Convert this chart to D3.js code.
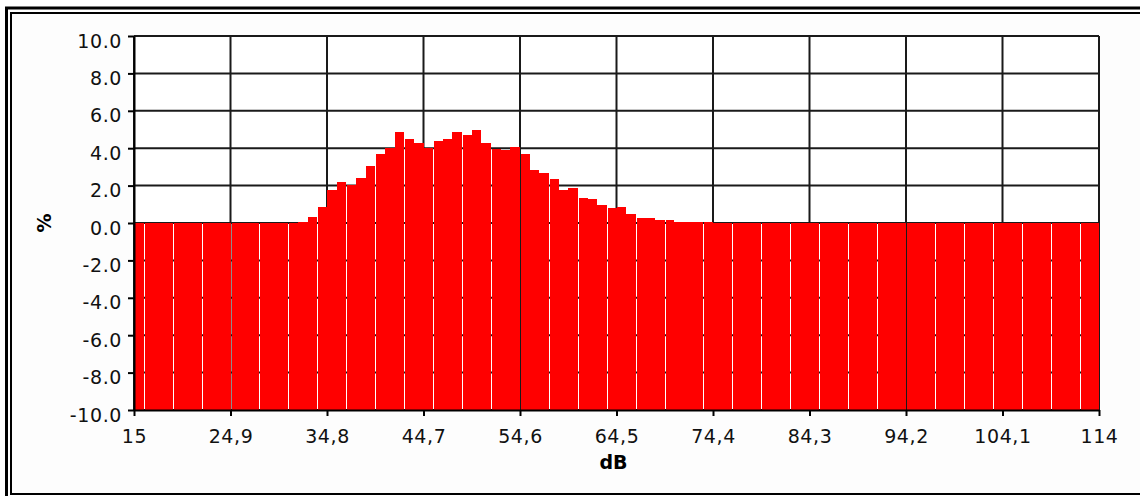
<!DOCTYPE html>
<html><head><meta charset="utf-8">
<script src="https://cdn.jsdelivr.net/npm/d3@7"></script>
<style>
body{margin:0;background:#fff}
svg{display:block}
text{font-family:"DejaVu Sans",Verdana,sans-serif}
</style>
</head><body>
<svg id="c" width="1140" height="496"></svg>
<script>
// ---- data ----
const binStart = 15;
const binWidth = 0.99;
const values = [
  0,0,0,0,0,0,0,0,0,0,
  0,0,0,0,0,0,0,0.05,0.34,0.87,
  1.77,2.18,2.02,2.38,3.07,3.69,4.03,4.87,4.48,4.27,
  4.02,4.37,4.48,4.88,4.69,4.97,4.27,3.98,3.92,4.05,
  3.69,2.86,2.68,2.33,1.76,1.85,1.36,1.27,0.97,0.78,
  0.86,0.46,0.25,0.25,0.15,0.15,0.07,0.07,0.07,0.05,
  0,0,0,0,0,0,0,0,0,0,
  0,0,0,0,0,0,0,0,0,0,
  0,0,0,0,0,0,0,0,0,0,
  0,0,0,0,0,0,0,0,0,0
];
const xTicks = [15,24.9,34.8,44.7,54.6,64.5,74.4,84.3,94.2,104.1,114];
const xTickLabels = ["15","24,9","34,8","44,7","54,6","64,5","74,4","84,3","94,2","104,1","114"];
const yTicks = [-10,-8,-6,-4,-2,0,2,4,6,8,10];
const yTickLabels = ["-10.0","-8.0","-6.0","-4.0","-2.0","0.0","2.0","4.0","6.0","8.0","10.0"];
const xTitle = "dB";
const yTitle = "%";

// ---- layout ----
const svg = d3.select('#c');
const L = 134, R = 1099, T = 36, B = 410;
const x = d3.scaleLinear().domain([xTicks[0], xTicks[xTicks.length-1]]).range([L, R]);
const y = d3.scaleLinear().domain([-10, 10]).range([B, T]);

// frames
svg.append('rect').attr('x',6.5).attr('y',8).attr('width',1300).attr('height',700)
  .attr('fill','none').attr('stroke','#000').attr('stroke-width',3);
svg.append('rect').attr('x',11).attr('y',13).attr('width',1300).attr('height',481)
  .attr('fill','#fdfdfd').attr('stroke','#000').attr('stroke-width',2);
svg.append('rect').attr('x',L).attr('y',T).attr('width',R-L).attr('height',B-T).attr('fill','#fff');

// grid
const grid = svg.append('g');
grid.selectAll('line.h').data(yTicks).join('line').attr('class','h')
  .attr('x1',L).attr('x2',R).attr('y1',d=>y(d)).attr('y2',d=>y(d))
  .attr('stroke','#1a1a1a').attr('stroke-width',2);
grid.selectAll('line.v').data(xTicks).join('line').attr('class','v')
  .attr('x1',d=>x(d)).attr('x2',d=>x(d)).attr('y1',T).attr('y2',B)
  .attr('stroke','#1a1a1a').attr('stroke-width',2);

// bars (thin seam left of some bars, emulating the pixel-rounding gaps of the original)
function seam(k){ const f = ((k*0.33 - 0.15) % 1 + 1) % 1; return k > 0 && f < 0.33; }
svg.append('g').selectAll('rect').data(values).join('rect')
  .attr('x',(d,i)=>Math.round(x(binStart+i*binWidth)) + (seam(i)?1:0))
  .attr('width',(d,i)=>{
     const l = Math.round(x(binStart+i*binWidth)) + (seam(i)?1:0);
     const r = Math.round(x(binStart+(i+1)*binWidth));
     return r - l;
  })
  .attr('y',d=>y(d)).attr('height',d=>B-y(d))
  .attr('fill','#ff0000').attr('shape-rendering','crispEdges');

// axes
const yAxis = d3.axisLeft(y).tickValues(yTicks).tickFormat((d,i)=>yTickLabels[i]).tickSize(6).tickSizeOuter(0);
const gy = svg.append('g').attr('transform',`translate(${L},0)`).call(yAxis);
gy.select('.domain').attr('stroke','#000').attr('stroke-width',2);
gy.selectAll('.tick line').attr('stroke','#000').attr('stroke-width',2);
gy.selectAll('.tick text').attr('x',-12).attr('dy','11px')
  .attr('font-size',19).attr('fill','#111').attr('font-family','"DejaVu Sans",Verdana,sans-serif')
  .style('letter-spacing','0.6px');

const xAxis = d3.axisBottom(x).tickValues(xTicks).tickFormat((d,i)=>xTickLabels[i]).tickSize(6).tickSizeOuter(0);
const gx = svg.append('g').attr('transform',`translate(0,${B})`).call(xAxis);
gx.select('.domain').attr('stroke','#000').attr('stroke-width',2);
gx.selectAll('.tick line').attr('stroke','#000').attr('stroke-width',2);
gx.selectAll('.tick text').attr('y',33).attr('dy',0)
  .attr('font-size',19).attr('fill','#111').attr('font-family','"DejaVu Sans",Verdana,sans-serif')
  .style('letter-spacing','0.6px');

// titles
svg.append('text').attr('x',(L+R)/2 - 3).attr('y',469).attr('text-anchor','middle')
  .attr('font-size',19).attr('font-weight','bold').attr('fill','#000').text(xTitle);
svg.append('text').attr('transform','translate(51,223) rotate(-90)').attr('text-anchor','middle')
  .attr('font-size',19).attr('font-weight','bold').attr('fill','#000').text(yTitle);
</script>
</body></html>
